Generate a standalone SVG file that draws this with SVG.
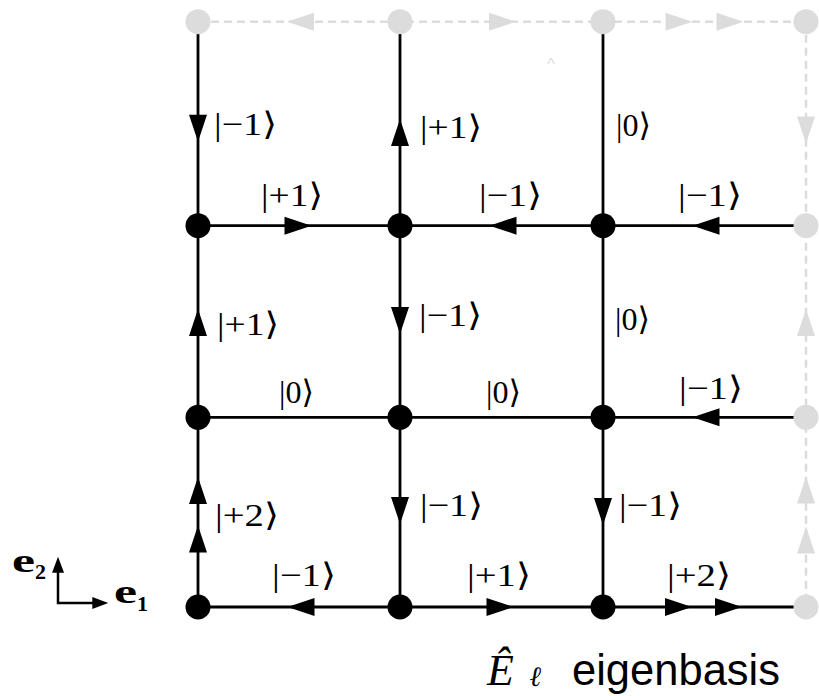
<svg xmlns="http://www.w3.org/2000/svg" width="819" height="696" viewBox="0 0 819 696">
<style>
.bl{stroke:#000;stroke-width:2.8;fill:none}
.lt{stroke:#dcdcdc;stroke-width:2.5;fill:none;stroke-dasharray:8 5}
.bn{fill:#000}
.ln{fill:#dcdcdc}
.k{font-family:"Liberation Serif","DejaVu Serif",serif;font-size:32px;fill:#000}
.ax{stroke:#000;stroke-width:2.5;fill:none}
.e{font-family:"Liberation Serif","DejaVu Serif",serif;font-weight:bold;fill:#000}
</style>
<defs>
<path id="a" d="M13.5,0 L-13.5,-9 L-13.5,9 Z"/>
<path id="s" d="M8,0 L-8,-6 L-8,6 Z"/>
</defs>
<rect width="819" height="696" fill="#fff"/>
<g id="connectors">
<line class="lt" x1="198" y1="21.7" x2="806" y2="21.7"/>
<line class="lt" x1="806" y1="21.7" x2="806" y2="607"/>
<line class="bl" x1="198" y1="21.7" x2="198" y2="607"/>
<line class="bl" x1="400" y1="21.7" x2="400" y2="607"/>
<line class="bl" x1="603" y1="21.7" x2="603" y2="607"/>
<line class="bl" x1="198" y1="225.7" x2="806" y2="225.7"/>
<line class="bl" x1="198" y1="417.3" x2="806" y2="417.3"/>
<line class="bl" x1="198" y1="607" x2="806" y2="607"/>
<g class="bn">
<use href="#a" transform="translate(198,128.3) rotate(90)"/>
<use href="#a" transform="translate(400,132.5) rotate(-90)"/>
<use href="#a" transform="translate(298,225.7)"/>
<use href="#a" transform="translate(503,225.7) rotate(180)"/>
<use href="#a" transform="translate(706,225.7) rotate(180)"/>
<use href="#a" transform="translate(198,322.5) rotate(-90)"/>
<use href="#a" transform="translate(400,320.5) rotate(90)"/>
<use href="#a" transform="translate(706,417.3) rotate(180)"/>
<use href="#a" transform="translate(198,490.5) rotate(-90)"/>
<use href="#a" transform="translate(198,539) rotate(-90)"/>
<use href="#a" transform="translate(400,510.5) rotate(90)"/>
<use href="#a" transform="translate(603,511.5) rotate(90)"/>
<use href="#a" transform="translate(301,607) rotate(180)"/>
<use href="#a" transform="translate(500,607)"/>
<use href="#a" transform="translate(678.5,607)"/>
<use href="#a" transform="translate(728.5,607)"/>
</g>
<g class="ln">
<use href="#a" transform="translate(300.5,21.7) rotate(180)"/>
<use href="#a" transform="translate(502.5,21.7)"/>
<use href="#a" transform="translate(679,21.7)"/>
<use href="#a" transform="translate(730,21.7)"/>
<use href="#a" transform="translate(806,130) rotate(90)"/>
<use href="#a" transform="translate(806,322.5) rotate(-90)"/>
<use href="#a" transform="translate(806,490) rotate(-90)"/>
<use href="#a" transform="translate(806,540) rotate(-90)"/>
</g>
</g>
<g id="nodes">
<g id="n00"><circle class="ln" cx="198" cy="21.7" r="12.5"/></g>
<g id="n10"><circle class="ln" cx="400" cy="21.7" r="12.5"/></g>
<g id="n20"><circle class="ln" cx="603" cy="21.7" r="12.5"/></g>
<g id="n30"><circle class="ln" cx="806" cy="21.7" r="12.5"/></g>
<g id="n01"><circle class="bn" cx="198" cy="225.7" r="12.5"/></g>
<g id="n11"><circle class="bn" cx="400" cy="225.7" r="12.5"/></g>
<g id="n21"><circle class="bn" cx="603" cy="225.7" r="12.5"/></g>
<g id="n31"><circle class="ln" cx="806" cy="225.7" r="12.5"/></g>
<g id="n02"><circle class="bn" cx="198" cy="417.3" r="12.5"/></g>
<g id="n12"><circle class="bn" cx="400" cy="417.3" r="12.5"/></g>
<g id="n22"><circle class="bn" cx="603" cy="417.3" r="12.5"/></g>
<g id="n32"><circle class="ln" cx="806" cy="417.3" r="12.5"/></g>
<g id="n03"><circle class="bn" cx="198" cy="607" r="12.5"/></g>
<g id="n13"><circle class="bn" cx="400" cy="607" r="12.5"/></g>
<g id="n23"><circle class="bn" cx="603" cy="607" r="12.5"/></g>
<g id="n33"><circle class="ln" cx="806" cy="607" r="12.5"/></g>
</g>
<g id="labels">
<text class="k" x="214" y="135" textLength="63" lengthAdjust="spacingAndGlyphs">|−1⟩</text>
<text class="k" x="420" y="138" textLength="62" lengthAdjust="spacingAndGlyphs">|+1⟩</text>
<text class="k" x="616" y="136" textLength="35" lengthAdjust="spacingAndGlyphs">|0⟩</text>
<text class="k" x="217" y="335" textLength="62" lengthAdjust="spacingAndGlyphs">|+1⟩</text>
<text class="k" x="419" y="326" textLength="63" lengthAdjust="spacingAndGlyphs">|−1⟩</text>
<text class="k" x="615" y="330" textLength="35" lengthAdjust="spacingAndGlyphs">|0⟩</text>
<text class="k" x="215" y="526" textLength="64" lengthAdjust="spacingAndGlyphs">|+2⟩</text>
<text class="k" x="420" y="516" textLength="63" lengthAdjust="spacingAndGlyphs">|−1⟩</text>
<text class="k" x="619" y="516" textLength="63" lengthAdjust="spacingAndGlyphs">|−1⟩</text>
<text class="k" x="261" y="206" textLength="62" lengthAdjust="spacingAndGlyphs">|+1⟩</text>
<text class="k" x="479" y="206" textLength="63" lengthAdjust="spacingAndGlyphs">|−1⟩</text>
<text class="k" x="678" y="206" textLength="64" lengthAdjust="spacingAndGlyphs">|−1⟩</text>
<text class="k" x="279" y="403" textLength="35" lengthAdjust="spacingAndGlyphs">|0⟩</text>
<text class="k" x="486" y="403" textLength="35" lengthAdjust="spacingAndGlyphs">|0⟩</text>
<text class="k" x="679" y="399" textLength="64" lengthAdjust="spacingAndGlyphs">|−1⟩</text>
<text class="k" x="272" y="586" textLength="64" lengthAdjust="spacingAndGlyphs">|−1⟩</text>
<text class="k" x="467" y="586" textLength="64" lengthAdjust="spacingAndGlyphs">|+1⟩</text>
<text class="k" x="667" y="586" textLength="64" lengthAdjust="spacingAndGlyphs">|+2⟩</text>
<text x="551" y="70" text-anchor="middle" font-family="Liberation Sans, sans-serif" font-size="16" fill="#dcdcdc">^</text>
</g>
<g id="axes">
<polyline class="ax" points="58,569 58,603 94,603"/>
<use href="#s" class="bn" transform="translate(58,564.7) rotate(-90)"/>
<use href="#s" class="bn" transform="translate(100.3,603)"/>
<text class="e" x="12" y="572" font-size="34" textLength="23" lengthAdjust="spacingAndGlyphs">e</text>
<text class="e" x="35" y="579" font-size="22" font-weight="normal">2</text>
<text class="e" x="114" y="603" font-size="34" textLength="23" lengthAdjust="spacingAndGlyphs">e</text>
<text class="e" x="137" y="611" font-size="22" font-weight="normal">1</text>
</g>
<g id="title">
<text x="487" y="685" font-family="Liberation Serif, serif" font-style="italic" font-size="44">Ê</text>
<text x="530" y="686" font-family="DejaVu Serif, serif" font-style="italic" font-weight="bold" font-size="28">ℓ</text>
<text x="572" y="685" font-family="Liberation Sans, sans-serif" font-size="44" textLength="208" lengthAdjust="spacingAndGlyphs">eigenbasis</text>
</g>
</svg>
